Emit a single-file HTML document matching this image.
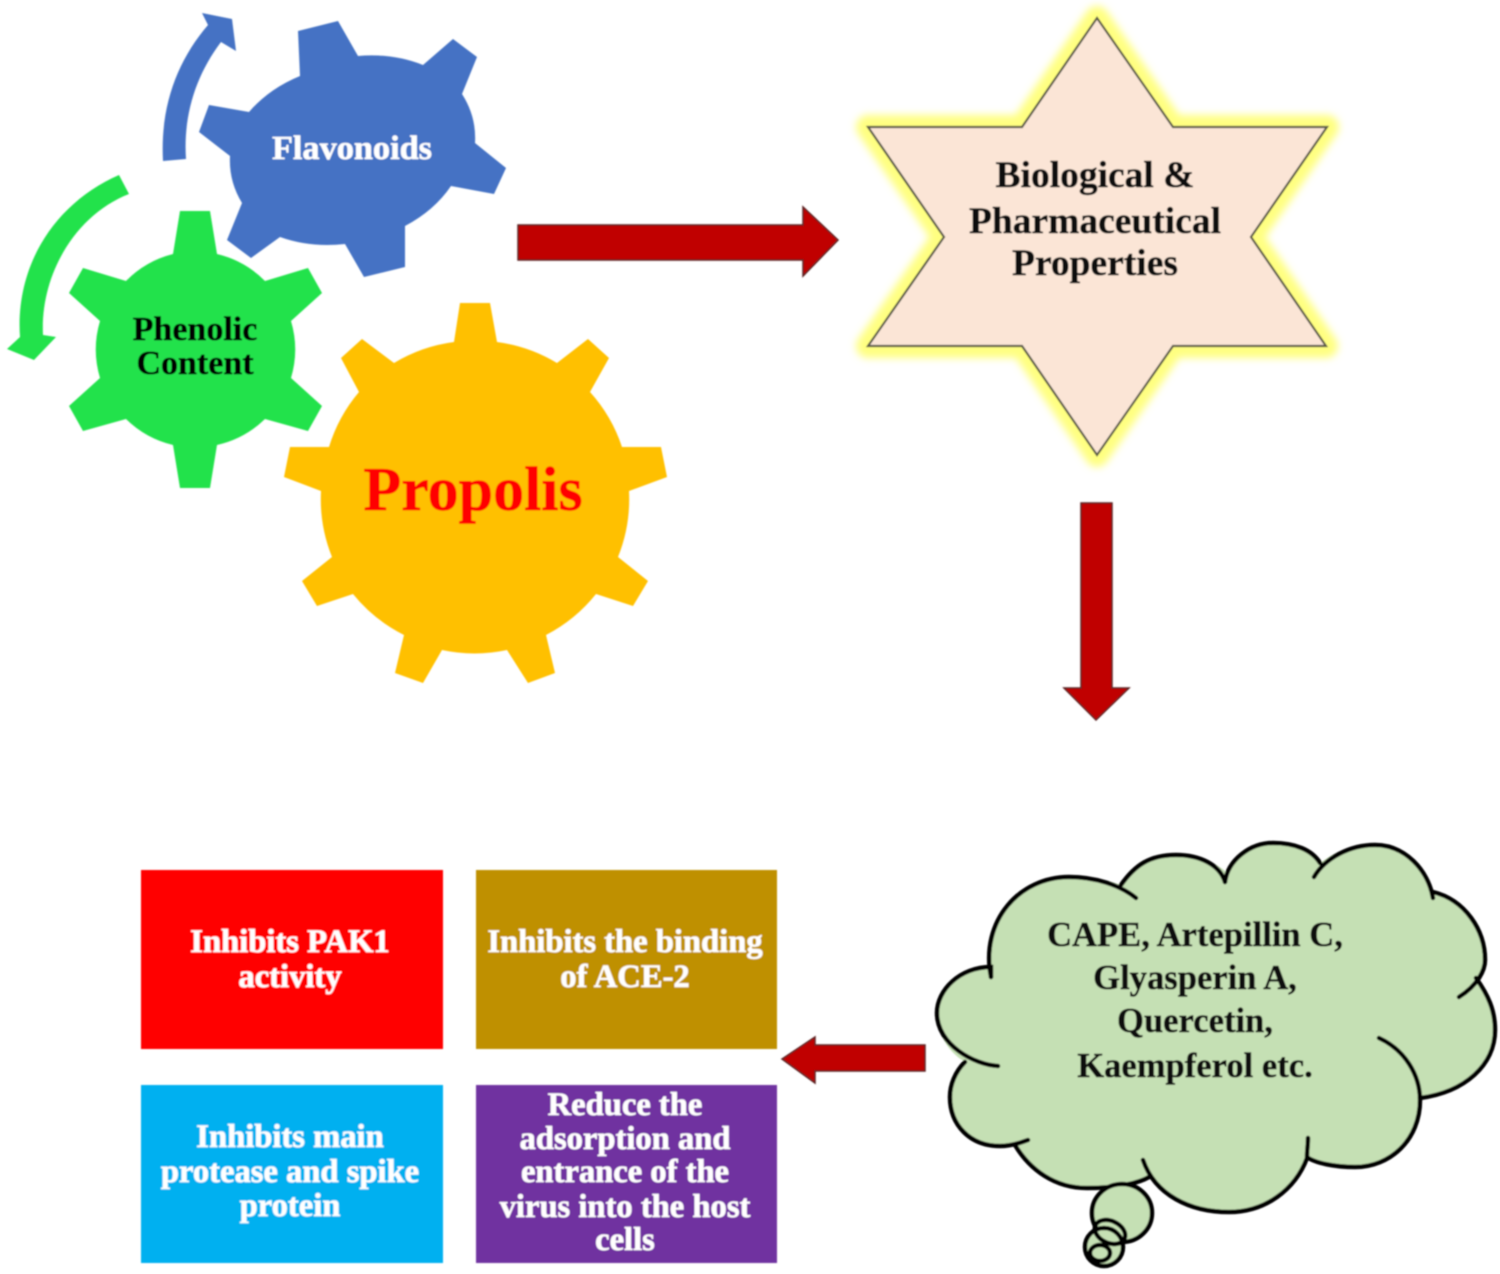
<!DOCTYPE html>
<html><head><meta charset="utf-8"><style>
html,body{margin:0;padding:0;background:#fff;width:1500px;height:1274px;overflow:hidden}
svg{display:block}
text{font-family:"Liberation Serif",serif;font-weight:bold;text-anchor:middle;stroke-width:0.5;paint-order:stroke}
</style></head><body>
<svg width="1500" height="1274" viewBox="0 0 1500 1274" xmlns="http://www.w3.org/2000/svg">
<defs>
<filter id="s" x="-2%" y="-2%" width="104%" height="104%"><feGaussianBlur stdDeviation="0.8"/></filter>
<filter id="g" x="-10%" y="-10%" width="120%" height="120%"><feGaussianBlur stdDeviation="4"/></filter>
</defs>
<rect width="1500" height="1274" fill="#fff"/>
<g filter="url(#s)">
<!-- yellow gear -->
<path fill="#ffc000" d="M454,342 L460,303 L490,303 L497,342 A155,155 0 0 1 557,363 L588,339 L609,358 L590,392 A155,155 0 0 1 622,447 L661,447 L667,477 L629,491 A155,155 0 0 1 618,557 L648,581 L633,606 L596,594 A155,155 0 0 1 546,635 L555,673 L528,683 L507,650 A155,155 0 0 1 442,650 L423,683 L395,673 L404,635 A155,155 0 0 1 353,594 L317,606 L302,581 L332,557 A155,155 0 0 1 321,491 L284,477 L290,447 L329,447 A155,155 0 0 1 359,392 L341,358 L362,339 L394,363 A155,155 0 0 1 454,342Z"/>
<!-- green gear -->
<path fill="#22e24c" d="M173,254 L180,211 L210,211 L217,254 A100,100 0 0 1 265,281 L308,268 L322,293 L291,321 A100,100 0 0 1 291,378 L322,406 L308,431 L265,419 A100,100 0 0 1 217,445 L210,488 L180,488 L173,445 A100,100 0 0 1 126,419 L83,431 L69,406 L100,378 A100,100 0 0 1 100,321 L69,293 L83,268 L126,281 A100,100 0 0 1 173,254Z"/>
<!-- blue gear -->
<path fill="#4472c4" d="M300,76 L298,31 L338,21 L358,56 A125,100 -10 0 1 423,65 L453,39 L477,57 L462,94 A125,100 -10 0 1 475,143 L506,168 L494,194 L451,186 A125,100 -10 0 1 405,226 L405,267 L364,277 L345,244 A125,100 -10 0 1 280,237 L251,258 L227,240 L242,203 A125,100 -10 0 1 230,156 L199,132 L209,105 L249,112 A125,100 -10 0 1 300,76Z"/>
<!-- curved arrows -->
<path fill="#4472c4" d="M163,161 C160,105 178,60 208,25 L202,13 L232,19 L236,51 L221,42 C196,75 183,115 186,159Z"/>
<path fill="#22e24c" d="M119,175 C55,203 15,265 20,337 L7,349 L34,360 L56,337 L43,335 C40,275 75,215 129,194Z"/>
<!-- red arrows -->
<path fill="#c00000" stroke="#5a2020" stroke-width="1.5" d="M518,225 L803,225 L803,207 L838,240 L803,276 L803,260 L518,260Z"/>
<path fill="#c00000" stroke="#5a2020" stroke-width="1.5" d="M1081,503 L1112,503 L1112,688 L1129,688 L1096,720 L1064,688 L1081,688Z"/>
<path fill="#c00000" stroke="#5a2020" stroke-width="1.5" d="M925,1045 L925,1071 L815,1071 L815,1083 L782,1059 L815,1037 L815,1045Z"/>
<!-- star glow -->
<path filter="url(#g)" fill="#ffff80" stroke="#ffff80" stroke-width="24" stroke-linejoin="round" d="M1097,18 L1173,127 L1327,127 L1251,237 L1326,346 L1173,346 L1097,455 L1022,346 L868,346 L944,237 L868,127 L1022,127Z"/>
<path fill="#fbe5d6" stroke="#5a5a4a" stroke-width="2.2" d="M1097,18 L1173,127 L1327,127 L1251,237 L1326,346 L1173,346 L1097,455 L1022,346 L868,346 L944,237 L868,127 L1022,127Z"/>
<!-- boxes -->
<rect x="141" y="870" width="302" height="179" fill="#ff0000"/>
<rect x="476" y="870" width="301" height="179" fill="#bf9000"/>
<rect x="141" y="1085" width="302" height="178" fill="#00b0f0"/>
<rect x="476" y="1085" width="301" height="178" fill="#7030a0"/>
<!-- cloud -->
<path fill="#c5e0b4" d="M991,967 C985,920 1020,877 1069,877 C1090,877 1108,880 1121,885 C1135,865 1150,855 1176,855 C1200,855 1220,865 1227,873 C1235,855 1250,843 1273,843 C1295,843 1312,850 1320,863 C1335,852 1350,845 1375,845 C1405,845 1428,870 1433,892 C1465,900 1485,930 1485,960 C1485,965 1482,972 1476,978 C1488,995 1495,1010 1495,1030 C1495,1065 1465,1092 1420,1098 C1420,1140 1390,1167 1355,1167 C1335,1167 1315,1162 1307,1158 C1295,1190 1265,1212 1229,1212 C1190,1212 1160,1195 1149,1177 C1135,1185 1110,1188 1087,1188 C1055,1188 1030,1170 1015,1145 C1010,1146 1005,1146 1000,1146 C970,1146 950,1125 950,1097 C950,1085 955,1072 965,1062 C945,1050 937,1030 937,1013 C937,990 960,967 991,967Z"/>
<g fill="none" stroke="#000" stroke-width="4.5" stroke-linecap="round">
<path d="M991,977 C980,920 1020,877 1069,877 C1095,877 1120,885 1136,898"/>
<path d="M1121,885 C1135,865 1150,855 1176,855 C1200,855 1220,865 1225,882"/>
<path d="M1225,882 C1228,860 1250,843 1273,843 C1295,843 1312,850 1320,863"/>
<path d="M1314,877 C1325,858 1350,845 1375,845 C1405,845 1428,870 1433,898"/>
<path d="M1433,892 C1465,900 1485,930 1485,960 C1485,970 1478,985 1459,997"/>
<path d="M1476,978 C1488,995 1495,1010 1495,1030 C1495,1065 1465,1092 1420,1098"/>
<path d="M1379,1038 C1405,1050 1420,1075 1420,1100 C1420,1140 1390,1167 1355,1167 C1335,1167 1315,1163 1307,1157 C1307,1150 1308,1145 1308,1138"/>
<path d="M1307,1158 C1295,1190 1265,1212 1229,1212 C1190,1212 1155,1195 1143,1160"/>
<path d="M1149,1177 C1135,1185 1110,1188 1087,1188 C1055,1188 1030,1170 1015,1145"/>
<path d="M1028,1140 C1015,1145 1005,1146 1000,1146 C970,1146 950,1125 950,1097 C950,1085 955,1072 965,1062"/>
<path d="M998,1066 C975,1065 937,1045 937,1013 C937,990 960,967 991,967 L991,977"/>
</g>
<!-- thought bubbles -->
<g fill="#c5e0b4" stroke="#000" stroke-width="4.5">
<ellipse cx="1122" cy="1213" rx="30" ry="29"/>
<circle cx="1104" cy="1247" r="19"/>
<ellipse cx="1110" cy="1232" rx="16" ry="11" transform="rotate(25 1110 1232)" fill="none"/>
<ellipse cx="1100" cy="1253" rx="10" ry="8"/>
</g>
<!-- text -->
<text x="352" y="159" font-size="34.3" fill="#fff" stroke="#fff">Flavonoids</text>
<text x="195" y="340" font-size="34" fill="#000" stroke="#000">Phenolic</text>
<text x="195" y="374" font-size="34" fill="#000" stroke="#000">Content</text>
<text x="473" y="510" font-size="62" fill="#ff0000" stroke="#ff0000">Propolis</text>
<g fill="#111" stroke="#111">
<text x="1095" y="187" font-size="37.5">Biological &amp;</text>
<text x="1095" y="233" font-size="37.5">Pharmaceutical</text>
<text x="1095" y="275" font-size="37.5">Properties</text>
<text x="1195" y="946" font-size="34.6">CAPE, Artepillin C,</text>
<text x="1195" y="989" font-size="34.6">Glyasperin A,</text>
<text x="1195" y="1032" font-size="34.6">Quercetin,</text>
<text x="1195" y="1077" font-size="34.6">Kaempferol etc.</text>
</g>
<g fill="#fff" stroke="#fff" font-size="32.6">
<text x="290" y="952">Inhibits PAK1</text>
<text x="290" y="987">activity</text>
<text x="625" y="952">Inhibits the binding</text>
<text x="625" y="987">of ACE-2</text>
<text x="290" y="1147">Inhibits main</text>
<text x="290" y="1182">protease and spike</text>
<text x="290" y="1216">protein</text>
<text x="625" y="1115">Reduce the</text>
<text x="625" y="1149">adsorption and</text>
<text x="625" y="1182">entrance of the</text>
<text x="625" y="1217">virus into the host</text>
<text x="625" y="1250">cells</text>
</g>
</g>
</svg>
</body></html>
